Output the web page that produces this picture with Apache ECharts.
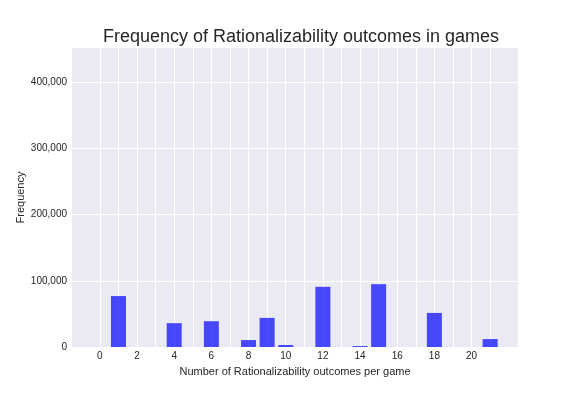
<!DOCTYPE html>
<html lang="en">
<head>
    <meta charset="UTF-8"/>
    <title>rationalizability</title>
    <script src="https://cdn.jsdelivr.net/npm/echarts@6/dist/echarts.min.js"></script>
</head>
<body style="margin:0">
<div id="main" style="width:576px;height:396px;"></div>

<script type="text/javascript">
    // outcome counts per game -> number of games
    var outcomes = [1, 4, 6, 8, 9, 10, 12, 14, 15, 18, 21];
    var freq = [77000, 36000, 39000, 10500, 44000, 3000, 91000, 1500, 95000, 51500, 12000];
    var gridTicks = [0, 1, 2, 3, 4, 5, 6, 7, 8, 9, 10, 11, 12, 13, 14, 15, 16, 17, 18, 19, 20, 21];
    var xLabels = [0, 2, 4, 6, 8, 10, 12, 14, 16, 18, 20];

    var font = 'Liberation Sans, Arial, sans-serif';
    var txt = '#262626';

    var myChart = echarts.init(document.getElementById('main'));
    var option = {
        backgroundColor: '#fff',
        title: {
            text: 'Frequency of Rationalizability outcomes in games',
            left: 296, top: 23, textAlign: 'center',
            textStyle: {fontFamily: font, fontSize: 18, fontWeight: 'normal', color: txt}
        },
        grid: {
            left: 72, right: 58, top: 48, bottom: 49,
            show: true, backgroundColor: '#EAEAF2', borderWidth: 0
        },
        xAxis: {
            type: 'value',
            min: -1.5, max: 22.5,
            name: 'Number of Rationalizability outcomes per game',
            nameLocation: 'middle', nameGap: 19, nameMoveOverlap: false,
            nameTextStyle: {fontFamily: font, fontSize: 11, color: txt},
            axisLine: {show: false},
            axisTick: {show: false, customValues: gridTicks},
            axisLabel: {customValues: xLabels, fontFamily: font, fontSize: 10, color: txt, margin: 4},
            splitLine: {show: true, lineStyle: {color: '#fff', width: 1}}
        },
        yAxis: {
            type: 'value',
            min: 0, max: 452000, interval: 100000,
            name: 'Frequency',
            nameLocation: 'middle', nameGap: 46, nameRotate: 90, nameMoveOverlap: false,
            nameTextStyle: {fontFamily: font, fontSize: 11, color: txt},
            axisLine: {show: false},
            axisTick: {show: false},
            axisLabel: {
                fontFamily: font, fontSize: 10, color: txt, margin: 5, showMaxLabel: false,
                formatter: function (v) { return v.toLocaleString('en-US'); }
            },
            splitLine: {show: true, showMaxLine: false, lineStyle: {color: '#fff', width: 1}}
        },
        series: [{
            type: 'bar',
            data: outcomes.map(function (x, i) { return [x, freq[i]]; }),
            barWidth: 15,
            itemStyle: {color: 'rgba(0,0,255,0.7)'}
        }]
    };
    myChart.setOption(option);
</script>
</body>
</html>
